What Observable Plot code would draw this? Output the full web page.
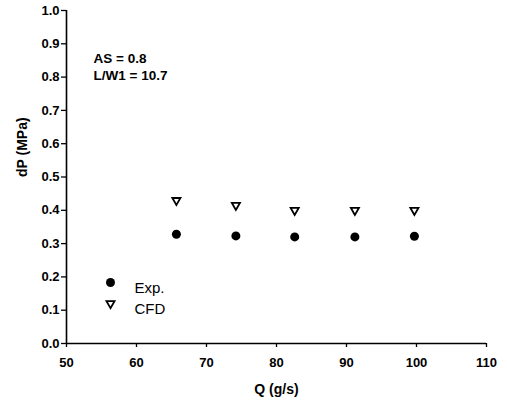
<!DOCTYPE html>
<html>
<head>
<meta charset="utf-8">
<script src="https://cdn.jsdelivr.net/npm/d3@7"></script>
<script src="https://cdn.jsdelivr.net/npm/@observablehq/plot@0.6"></script>
<style>
  html, body { margin: 0; padding: 0; background: #fff; }
  svg { display: block; }
</style>
</head>
<body>
<div id="chart"></div>
<script>
const flowQ = [65.7, 74.2, 82.6, 91.2, 99.7];
const expDP = [0.328, 0.323, 0.320, 0.320, 0.322];
const cfdDP = [0.430, 0.415, 0.400, 0.400, 0.400];
const xTicks = [50, 60, 70, 80, 90, 100, 110];
const yTicks = [0, 0.1, 0.2, 0.3, 0.4, 0.5, 0.6, 0.7, 0.8, 0.9, 1.0];
const annotations = ["AS = 0.8", "L/W1 = 10.7"];
const legendLabels = ["Exp.", "CFD"];

const expData = flowQ.map((q, i) => ({q, dp: expDP[i]}));
const cfdData = flowQ.map((q, i) => ({q, dp: cfdDP[i]}));

const font = "Liberation Sans, Arial, Helvetica, sans-serif";

const chart = Plot.plot({
  width: 507,
  height: 401,
  marginLeft: 66,
  marginRight: 21,
  marginTop: 10,
  marginBottom: 58,
  style: {fontFamily: font, fontSize: "13px", fontWeight: "bold", color: "#000", background: "#fff"},
  x: {domain: [50, 110]},
  y: {domain: [0, 1]},
  marks: [
    Plot.axisX({ticks: xTicks, tickSize: 4, tickPadding: 10, label: null, fontSize: 13, fontWeight: "bold", strokeWidth: 1.3}),
    Plot.axisY({ticks: yTicks, tickSize: 5, tickPadding: 2, tickFormat: d3.format(".1f"), label: null, fontSize: 13, fontWeight: "bold", strokeWidth: 1.3}),
    Plot.ruleX([50], {stroke: "#000", strokeWidth: 1.6}),
    Plot.ruleY([0], {stroke: "#000", strokeWidth: 1.6}),
    Plot.dot(expData, {x: "q", y: "dp", r: 4.5, fill: "#000", stroke: "none"}),
    Plot.dot(cfdData, {x: "q", y: "dp", symbol: "triangle", r: 3, rotate: 180, fill: "#fff", stroke: "#000", strokeWidth: 1.8}),
    Plot.text(["dP (MPa)"], {frameAnchor: "left", rotate: -90, dx: -44, fontSize: 14, fontWeight: "bold", fill: "#000"}),
    Plot.text(["Q (g/s)"], {frameAnchor: "bottom", dy: 50, fontSize: 14, fontWeight: "bold", fill: "#000"}),
    Plot.text([annotations[0]], {frameAnchor: "top-left", dx: 27, dy: 43, textAnchor: "start", fontSize: 13.5, fontWeight: "bold", fill: "#000"}),
    Plot.text([annotations[1]], {frameAnchor: "top-left", dx: 27, dy: 60, textAnchor: "start", fontSize: 13.5, fontWeight: "bold", fill: "#000"}),
    Plot.dot([legendLabels[0]], {frameAnchor: "top-left", dx: 44, dy: 272, r: 4.5, fill: "#000", stroke: "none"}),
    Plot.dot([legendLabels[1]], {frameAnchor: "top-left", dx: 44, dy: 293, symbol: "triangle", r: 3, rotate: 180, fill: "#fff", stroke: "#000", strokeWidth: 1.8}),
    Plot.text([legendLabels[0]], {frameAnchor: "top-left", dx: 68, dy: 272, textAnchor: "start", fontSize: 15, fontWeight: "normal", fill: "#000"}),
    Plot.text([legendLabels[1]], {frameAnchor: "top-left", dx: 68, dy: 293, textAnchor: "start", fontSize: 15, fontWeight: "normal", fill: "#000"})
  ]
});
document.getElementById("chart").appendChild(chart);
</script>
</body>
</html>
